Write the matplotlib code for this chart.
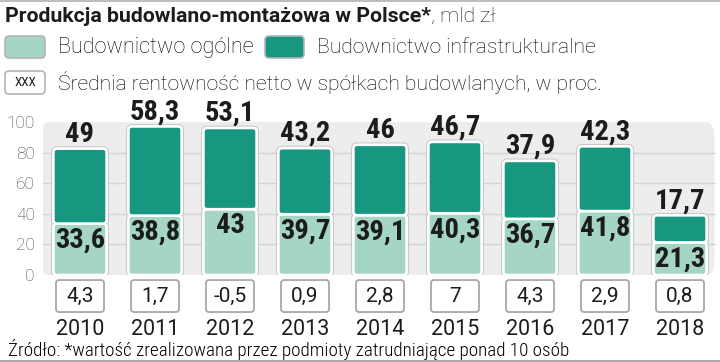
import matplotlib
matplotlib.use("Agg")
import matplotlib.pyplot as plt
from matplotlib.patches import FancyBboxPatch

# data (mld zł, rentowność w proc.)
years = ["2010", "2011", "2012", "2013", "2014", "2015", "2016", "2017", "2018"]
general = [33.6, 38.8, 43, 39.7, 39.1, 40.3, 36.7, 41.8, 21.3]
infra = [49, 58.3, 53.1, 43.2, 46, 46.7, 37.9, 42.3, 17.7]
margin = [4.3, 1.7, -0.5, 0.9, 2.8, 7, 4.3, 2.9, 0.8]
yticks = [0, 20, 40, 60, 80, 100]

LIGHT = "#a4d5c6"
DARK = "#17977f"
TXT = "#1c1c1c"
COND = "Roboto Condensed"


def fmt(v):
    return f"{v:g}".replace(".", ",")


fig = plt.figure(figsize=(7.2, 3.62), dpi=100)
fig.patch.set_facecolor("white")

# main chart axes: y=0 at 275px, y=100 at 122px
ax = fig.add_axes([42.5 / 720, 87 / 362, 675 / 720, 153 / 362])
ax.set_xlim(-0.5, 8.5)
ax.set_ylim(0, 100)
ax.patch.set_alpha(0)
for s in ax.spines.values():
    s.set_visible(False)

# px -> data aspect for rounded corners
asp = (100 / 153) / (9 / 675)

bg = FancyBboxPatch((-0.53, -1.5), 8.99, 102.5,
                    boxstyle="round,pad=0,rounding_size=0.2",
                    mutation_aspect=asp, fc="#ededed", ec="none", zorder=0)
ax.add_patch(bg)
ax.hlines([20, 40, 60, 80], -0.53, 8.46, color="#d3d3d3", lw=1, zorder=1)

w = 0.71


def seg(x, y0, h, color):
    for ec, lw, z in (("#c9c9c9", 3.4, 2), ("white", 1.9, 3)):
        p = FancyBboxPatch((x - w / 2, y0), w, h,
                           boxstyle="round,pad=0,rounding_size=0.05",
                           mutation_aspect=asp, fc=color, ec=ec, lw=lw, zorder=z)
        ax.add_patch(p)


for i in range(len(years)):
    g, f = general[i], infra[i]
    seg(i, 0, g, LIGHT)
    seg(i, g, f, DARK)
    ax.annotate(fmt(g), (i, g), xytext=(0, -12), textcoords="offset points",
                ha="center", va="center", fontfamily=COND, fontweight="bold",
                fontsize=20.5, color=TXT, zorder=5)
    ax.annotate(fmt(f), (i, g + f), xytext=(0, 10.5), textcoords="offset points",
                ha="center", va="center", fontfamily=COND, fontweight="bold",
                fontsize=20.5, color=TXT, zorder=5, annotation_clip=False)
    # profitability box under the bar
    bw = 0.64
    box = FancyBboxPatch((i - bw / 2, -24.2), bw, 20.9,
                         boxstyle="round,pad=0,rounding_size=0.04",
                         mutation_aspect=asp, fc="white", ec="#a8a8a8",
                         lw=1.3, zorder=3, clip_on=False)
    ax.add_patch(box)
    ax.text(i, -13.9, fmt(margin[i]), ha="center", va="center",
            fontfamily="Roboto", fontsize=15, color=TXT, zorder=5, clip_on=False)

ax.set_xticks(range(len(years)), years)
ax.set_yticks(yticks, [str(t) for t in yticks])
ax.tick_params(axis="x", length=0, pad=32, labelsize=15.5, labelcolor=TXT)
ax.tick_params(axis="y", length=0, pad=5.5, labelsize=12.5, labelcolor="#444444")
for lab in ax.get_xticklabels():
    lab.set_fontfamily("Roboto")
for lab in ax.get_yticklabels():
    lab.set_fontfamily("Roboto")
    lab.set_fontweight("light")

# overlay in pixel coordinates for header and footer
ov = fig.add_axes([0, 0, 1, 1], zorder=-1)
ov.set_xlim(0, 720)
ov.set_ylim(362, 0)
ov.axis("off")

ov.plot([0, 720], [0.7, 0.7], color="#bdbdbd", lw=1.4)
ov.plot([0, 720], [360.5, 360.5], color="#9a9a9a", lw=1.2)

t1 = ov.text(5, 22, "Produkcja budowlano-montażowa w Polsce*", fontfamily="Roboto",
             fontweight="bold", fontsize=15.3, color=TXT, va="baseline")
ov.annotate(", mld zł", xy=(1, 0), xycoords=t1, va="bottom", ha="left",
            fontfamily="Roboto", fontweight="light", fontsize=15.3, color=TXT)


def keybox(x, y, wd, ht, fc):
    ov.add_patch(FancyBboxPatch((x, y), wd, ht, boxstyle="round,pad=0,rounding_size=4",
                                fc=fc, ec="#b5b5b5", lw=1.2))


keybox(5, 36, 40, 22, LIGHT)
ov.text(58, 47.5, "Budownictwo ogólne", fontfamily="Roboto", fontweight="light",
        fontsize=15.6, color="black", va="center")
keybox(265, 36, 39, 22, DARK)
ov.text(317, 47.5, "Budownictwo infrastrukturalne", fontfamily="Roboto",
        fontweight="light", fontsize=15.2, color="black", va="center")
keybox(5, 71, 40, 23, "white")
ov.text(25, 82.5, "XXX", fontfamily=COND, fontsize=9.5, color=TXT,
        ha="center", va="center")
ov.text(58, 83, "Średnia rentowność netto w spółkach budowlanych, w proc.",
        fontfamily="Roboto", fontweight="light", fontsize=15.2, color="black",
        va="center")

ov.text(8, 350, "Źródło: *wartość zrealizowana przez podmioty zatrudniające ponad 10 osób",
        fontfamily=COND, fontweight="light", fontsize=13.8, color="black", va="center")

fig.savefig("out.png", dpi=100)
